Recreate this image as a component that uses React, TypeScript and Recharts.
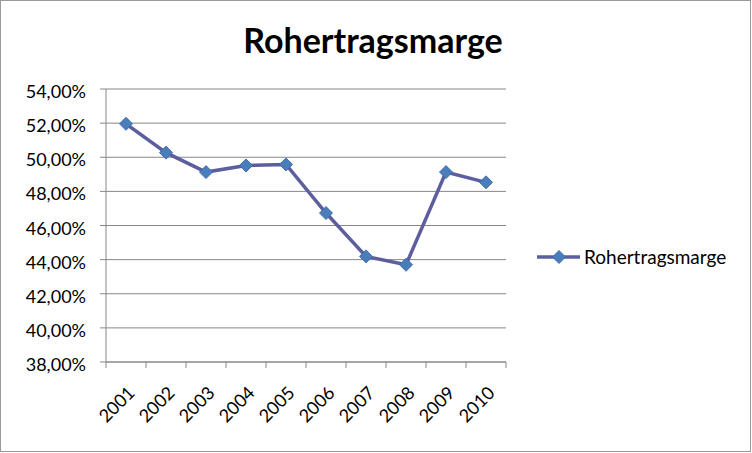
import React from 'react';
import { LineChart, Line, XAxis, YAxis, CartesianGrid, Legend } from 'recharts';

const years = ['2001', '2002', '2003', '2004', '2005', '2006', '2007', '2008', '2009', '2010'];
const margins = [51.96, 50.27, 49.13, 49.52, 49.58, 46.73, 44.19, 43.7, 49.13, 48.53];
const yTicks = [38, 40, 42, 44, 46, 48, 50, 52, 54];
const chartTitle = 'Rohertragsmarge';
const seriesName = 'Rohertragsmarge';

const data = years.map((year, i) => ({ year, value: margins[i] }));

const FONT = 'Lato, "Open Sans", sans-serif';
const LINE_COLOR = '#5D5E9E';
const MARKER_FILL = '#4A7EBB';
const MARKER_STROKE = '#3F6FA8';
const GRID = '#878787';

const fmt = (v: number) => v.toFixed(2).replace('.', ',') + '%';

const Diamond = (props: any) => {
  const { cx, cy, index } = props;
  if (cx == null || cy == null) return null;
  const r = 6.5;
  return (
    <path
      key={`d-${index}`}
      d={`M${cx},${cy - r} L${cx + r},${cy} L${cx},${cy + r} L${cx - r},${cy} Z`}
      fill={MARKER_FILL}
      stroke={MARKER_STROKE}
      strokeWidth={1}
    />
  );
};

const XTick = (props: any) => {
  const { x, y, payload, index, visibleTicksCount } = props;
  const off = payload.offset ?? 0;
  const axisY = y - 6;
  const lx = x + 10;
  const ly = y + 26;
  return (
    <g>
      <line x1={x - off} x2={x - off} y1={axisY} y2={axisY + 6} stroke={GRID} />
      {index === visibleTicksCount - 1 && (
        <line x1={x + off} x2={x + off} y1={axisY} y2={axisY + 6} stroke={GRID} />
      )}
      <text
        x={lx}
        y={ly}
        textAnchor="end"
        transform={`rotate(-45, ${lx}, ${ly})`}
        fontFamily={FONT}
        fontSize={18}
        fill="#000"
      >
        {payload.value}
      </text>
    </g>
  );
};

const YTick = (props: any) => {
  const { x, y, payload } = props;
  return (
    <text x={x} y={y + 9} textAnchor="end" fontFamily={FONT} fontSize={18} fill="#000">
      {fmt(payload.value)}
    </text>
  );
};

const LegendContent = () => (
  <svg width={210} height={30}>
    <line x1={7} x2={50} y1={14} y2={14} stroke={LINE_COLOR} strokeWidth={3.5} />
    <path d="M29,7.5 L35.5,14 L29,20.5 L22.5,14 Z" fill={MARKER_FILL} stroke={MARKER_STROKE} />
    <text x={54} y={21} fontFamily={FONT} fontSize={19} fill="#000">
      {seriesName}
    </text>
  </svg>
);

export default function App() {
  return (
    <div
      style={{
        position: 'absolute',
        left: 0,
        top: 0,
        width: 752,
        height: 453,
        background: '#fff',
      }}
    >
      <div
        style={{
          position: 'absolute',
          left: 0,
          top: 0,
          width: 751,
          height: 452,
          border: '1px solid #9a9a9a',
          boxSizing: 'border-box',
        }}
      />
      <div
        style={{
          position: 'absolute',
          left: 0,
          top: 18,
          width: 746,
          textAlign: 'center',
          fontFamily: FONT,
          fontWeight: 700,
          fontSize: 34,
          lineHeight: '44px',
          color: '#000',
        }}
      >
        {chartTitle}
      </div>
      <LineChart
        width={752}
        height={453}
        data={data}
        margin={{ top: 89, right: 36, bottom: 31, left: 6 }}
        style={{ position: 'absolute', left: 0, top: 0 }}
      >
        <CartesianGrid vertical={false} stroke={GRID} strokeWidth={1} />
        <XAxis
          dataKey="year"
          scale="band"
          height={60}
          tickLine={false}
          axisLine={{ stroke: GRID }}
          tickSize={6}
          tickMargin={0}
          interval={0}
          tick={<XTick />}
        />
        <YAxis
          domain={[38, 54]}
          ticks={yTicks}
          width={100}
          tickSize={6}
          tickMargin={14}
          axisLine={{ stroke: GRID }}
          tickLine={{ stroke: GRID }}
          tick={<YTick />}
          interval={0}
          allowDataOverflow
        />
        <Legend
          layout="vertical"
          align="right"
          verticalAlign="middle"
          width={200}
          content={<LegendContent />}
          wrapperStyle={{ left: 530, top: 243, width: 210 }}
        />
        <Line
          dataKey="value"
          name={seriesName}
          stroke={LINE_COLOR}
          strokeWidth={3.5}
          dot={<Diamond />}
          activeDot={false}
          isAnimationActive={false}
        />
      </LineChart>
    </div>
  );
}
